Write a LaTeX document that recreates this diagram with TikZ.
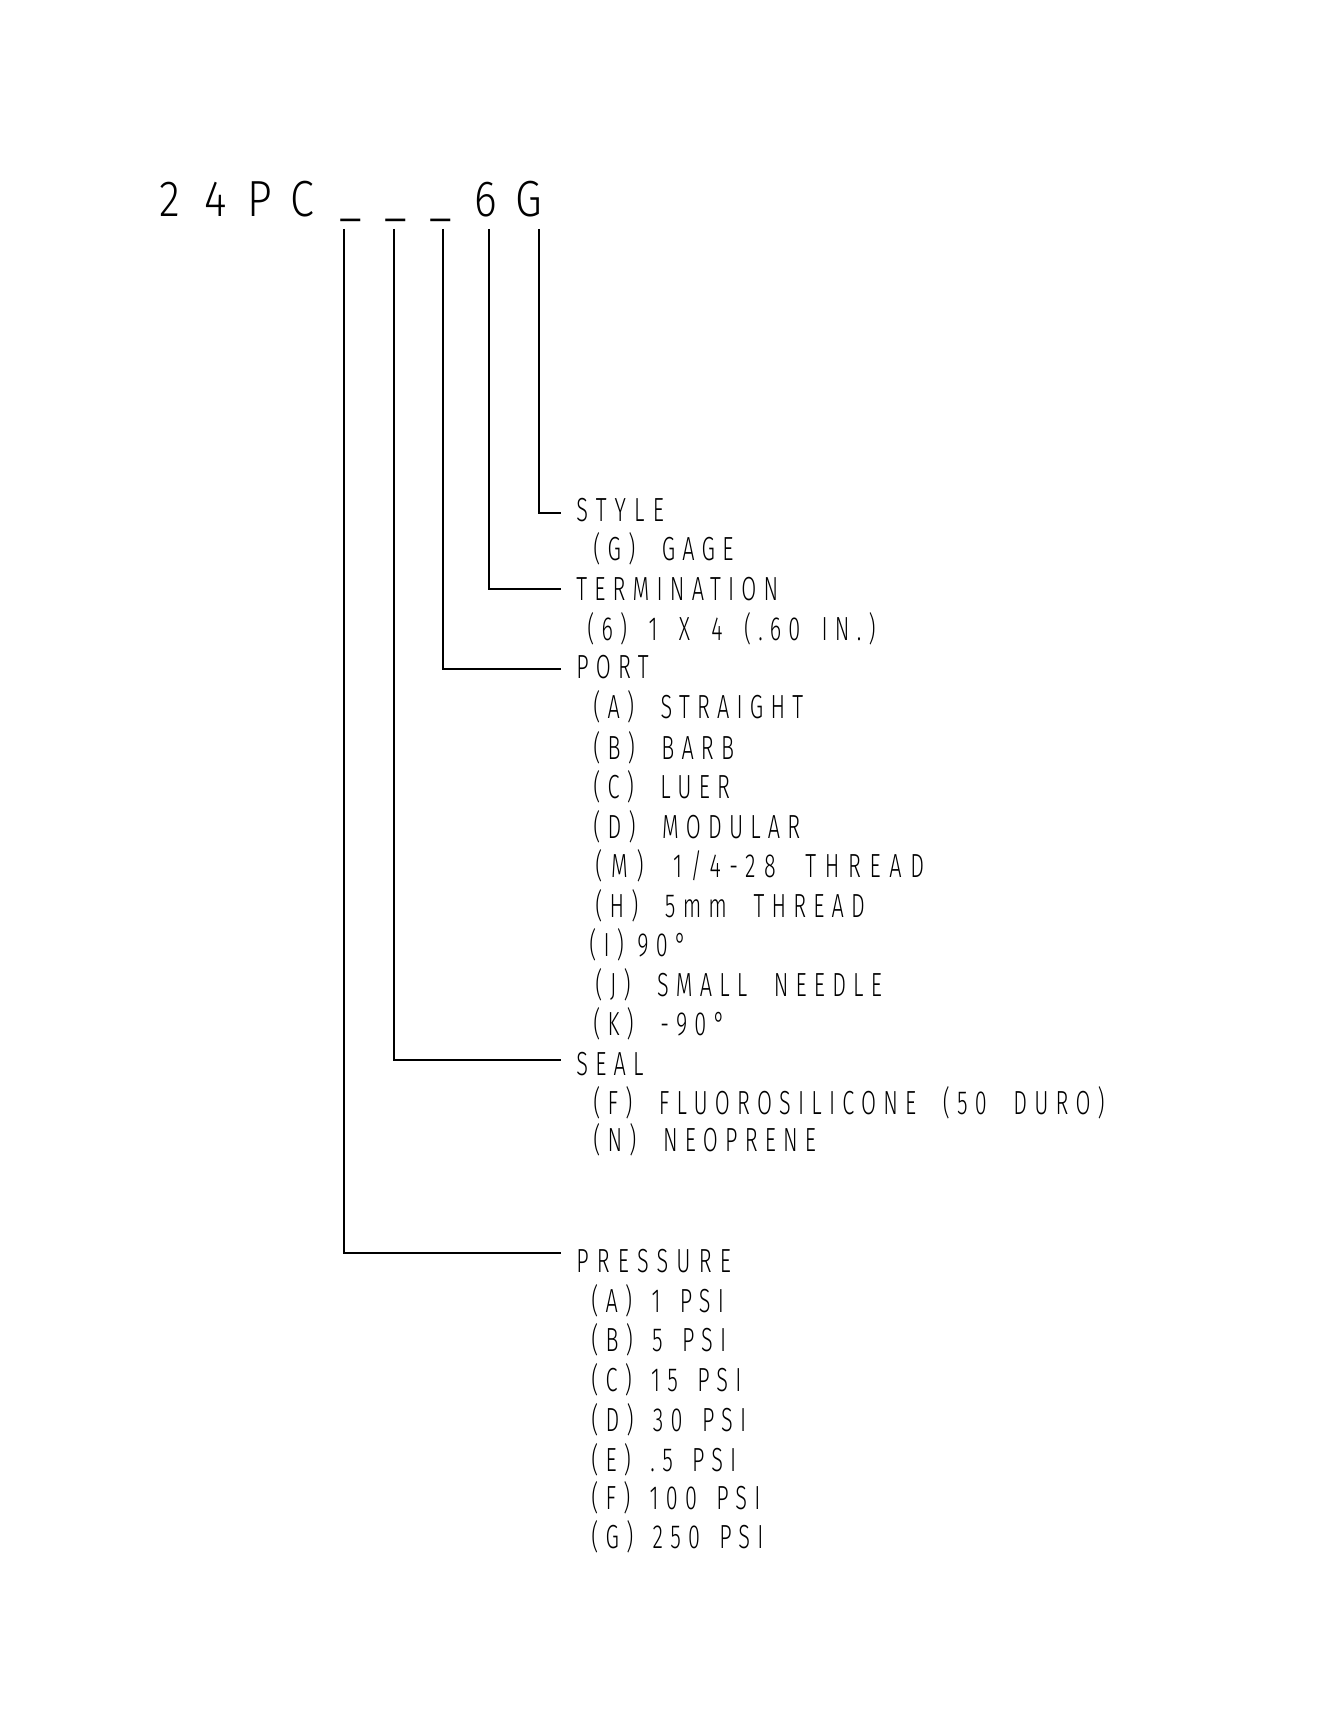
\documentclass[tikz,border=0pt]{standalone}
\usepackage{fontspec}
\setmainfont{Fira Sans}[UprightFont={* Light}, FakeStretch=0.65, LetterSpace=21.6, WordSpace=2]
\newfontfamily\hdrfont{Fira Sans}[UprightFont={* Light}, FakeStretch=0.85]
\newcommand\lblsize{\fontsize{16.7}{20}\selectfont}
\newcommand\sixsp{\hspace{-2.6pt}}
\newcommand\psisp{\hspace{-3.6pt}}
\newcommand\degsp{\hspace{-6.6pt}}
\begin{document}
\begin{tikzpicture}[x=0.5pt,y=-0.5pt,
  hdr/.style={inner sep=0pt, anchor=base, font=\hdrfont\fontsize{25.4}{30}\selectfont},
  lbl/.style={inner sep=0pt, anchor=base west, font=\lblsize},
  opt/.style={lbl},
  wide/.style={font=\lblsize\addfontfeatures{LetterSpace=24.5}},
  wider/.style={font=\lblsize\addfontfeatures{LetterSpace=26}},
  lead/.style={line width=1pt, line join=miter}]
\useasboundingbox (0,0) rectangle (1339,1732);
% header
\node[hdr] (h1) at (170,217) {2};
\node[hdr] (h2) at (215.5,217) {4};
\node[hdr] (h3) at (260,217) {P};
\node[hdr] (h4) at (302.5,217) {C};
\node[hdr] (h5) at (351,217) {\raisebox{0.03em}{\_}};
\node[hdr] (h6) at (396,217) {\raisebox{0.03em}{\_}};
\node[hdr] (h7) at (441,217) {\raisebox{0.03em}{\_}};
\node[hdr] (h8) at (485.5,217) {6};
\node[hdr] (h9) at (529,217) {G};
\coordinate (v1) at (343.5,229);
\coordinate (v2) at (393.5,229);
\coordinate (v3) at (443,229);
\coordinate (v4) at (488.5,229);
\coordinate (v5) at (538.5,229);
% labels
\node[lbl,wide] (style) at (576,522) {STYLE};
\node[opt] (g1) at (593,560.7) {(G) GAGE};
\node[lbl] (term) at (576,600.5) {TERMINATION};
\node[opt] (t1) at (587,640.2) {(6) \sixsp1 \sixsp X \sixsp4 \sixsp(.60 \sixsp IN.)};
\node[lbl] (port) at (576,678.9) {PORT};
\node[opt] (p1) at (593,718.7) {(A) STRAIGHT};
\node[opt] (p2) at (593,759.6) {(B) BARB};
\node[opt] (p3) at (593,798.2) {(C) LUER};
\node[opt] (p4) at (593,838) {(D) MODULAR};
\node[opt,wider] (p5) at (595,877.8) {(M) 1/4-28 THREAD};
\node[opt] (p6) at (595,917.5) {(H) 5mm THREAD};
\node[opt] (p7) at (589,956.2) {(I) \degsp90°};
\node[opt] (p8) at (595,996) {(J) SMALL NEEDLE};
\node[opt] (p9) at (593,1035.7) {(K) -90°};
\node[lbl] (seal) at (576,1075.5) {SEAL};
\node[opt] (s1) at (593,1114.2) {(F) FLUOROSILICONE (50 DURO)};
\node[opt] (s2) at (593,1151.7) {(N) NEOPRENE};
\node[lbl,wide] (pres) at (576,1272.2) {PRESSURE};
\node[opt] (r1) at (591,1312) {(A) \psisp1 \psisp PSI};
\node[opt] (r2) at (591,1351.7) {(B) \psisp5 \psisp PSI};
\node[opt] (r3) at (591,1391.5) {(C) \psisp15 \psisp PSI};
\node[opt] (r4) at (591,1431.3) {(D) \psisp30 \psisp PSI};
\node[opt] (r5) at (591,1471) {(E) \psisp.5 \psisp PSI};
\node[opt] (r6) at (591,1509.7) {(F) \psisp100 \psisp PSI};
\node[opt] (r7) at (591,1548.4) {(G) \psisp250 \psisp PSI};
% leaders
\draw[lead] (v5) |- ([xshift=-7.5pt,yshift=-1.25pt]style.west);
\draw[lead] (v4) |- ([xshift=-7.5pt]term.west);
\draw[lead] (v3) |- ([xshift=-7.5pt,yshift=-0.75pt]port.west);
\draw[lead] (v2) |- ([xshift=-7.5pt,yshift=2.25pt]seal.west);
\draw[lead] (v1) |- ([xshift=-7.5pt,yshift=3.75pt]pres.west);
\end{tikzpicture}
\end{document}
